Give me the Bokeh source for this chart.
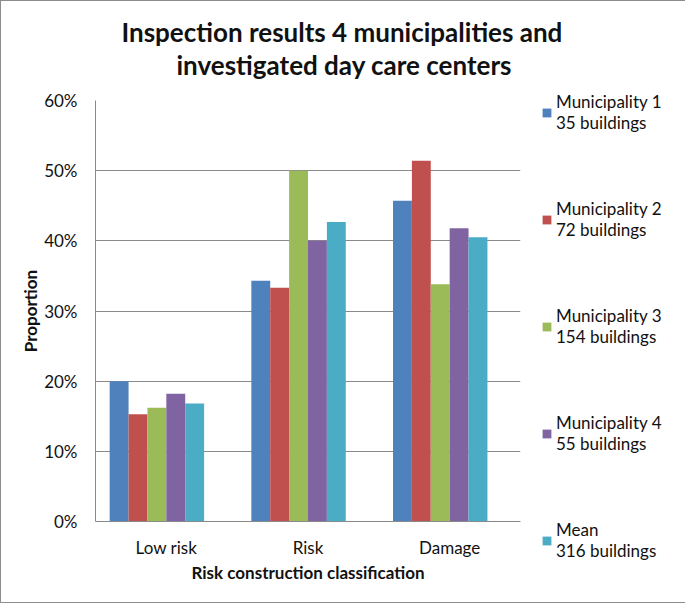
from bokeh.plotting import figure
from bokeh.models import (ColumnDataSource, FactorRange, Legend, LegendItem, Title,
                          NumeralTickFormatter, FixedTicker)
from bokeh.transform import dodge
from bokeh.embed import file_html
from bokeh.resources import INLINE

# ---- data ----
categories = ["Low risk", "Risk", "Damage"]
series_labels = ["Municipality 1\n35 buildings",
                 "Municipality 2\n72 buildings",
                 "Municipality 3\n154 buildings",
                 "Municipality 4\n55 buildings",
                 "Mean\n316 buildings"]
municipality1 = [0.200, 0.343, 0.457]
municipality2 = [0.153, 0.333, 0.514]
municipality3 = [0.162, 0.500, 0.338]
municipality4 = [0.182, 0.400, 0.418]
mean_all = [0.168, 0.427, 0.405]
y_ticks = [0.0, 0.1, 0.2, 0.3, 0.4, 0.5, 0.6]

colors = ["#4F81BD", "#C0504D", "#9BBB59", "#8064A2", "#4BACC6"]

FONT = "Lato"
GRID = "#8a8a8a"
TXT = "#111111"

src = ColumnDataSource(dict(cat=categories, s0=municipality1, s1=municipality2,
                            s2=municipality3, s3=municipality4, s4=mean_all))

p = figure(x_range=FactorRange(*categories), y_range=(0, 0.6),
           frame_width=425, frame_height=421,
           output_backend="svg", toolbar_location=None,
           min_border_left=94, min_border_right=164, min_border_top=99, min_border_bottom=81)
p.styles = {"border": "1px solid #8c8c8c"}

bw = 1 / 7.5
items = []
for i, (lab, col) in enumerate(zip(series_labels, colors)):
    off = -0.4 + (i + 0.5) * bw
    r = p.vbar(x=dodge("cat", off, range=p.x_range), top="s%d" % i, width=bw,
               source=src, fill_color=col, line_color=None)
    items.append(LegendItem(label=lab, renderers=[r]))

legend = Legend(items=items, location=(21, -40), orientation="vertical",
                border_line_color=None, background_fill_alpha=0, padding=0, margin=0,
                spacing=65, glyph_width=11, glyph_height=11, label_standoff=4,
                label_text_font=FONT, label_text_font_size="17px",
                label_text_line_height=1.35, label_text_color=TXT)
p.add_layout(legend, "right")

# two-line title
p.add_layout(Title(text="investigated day care centers", align="left", offset=81,
                   text_font=FONT, text_font_style="bold", text_font_size="26px",
                   text_color=TXT, standoff=40), "above")
p.add_layout(Title(text="Inspection results 4 municipalities and", align="left", offset=26,
                   text_font=FONT, text_font_style="bold", text_font_size="26px",
                   text_color=TXT, standoff=-42), "above")

p.outline_line_color = None
p.xgrid.visible = False
p.ygrid.grid_line_color = GRID
p.ygrid.ticker = FixedTicker(ticks=y_ticks)

p.yaxis.ticker = FixedTicker(ticks=y_ticks)
p.yaxis.formatter = NumeralTickFormatter(format="0%")
for ax in (p.xaxis[0], p.yaxis[0]):
    ax.axis_line_color = GRID
    ax.major_tick_line_color = None
    ax.minor_tick_line_color = None
    ax.major_label_text_font = FONT
    ax.major_label_text_font_size = "17px"
    ax.major_label_text_color = TXT
    ax.axis_label_text_font = FONT
    ax.axis_label_text_font_size = "17px"
    ax.axis_label_text_font_style = "bold"
    ax.axis_label_text_color = TXT

p.yaxis.axis_label = "Proportion"
p.yaxis.major_label_standoff = 12
p.yaxis.axis_label_standoff = 0
p.xaxis.axis_label = "Risk construction classification"
p.xaxis.major_label_standoff = 9
p.xaxis.axis_label_standoff = 1

open("out.html", "w").write(file_html(p, INLINE))
